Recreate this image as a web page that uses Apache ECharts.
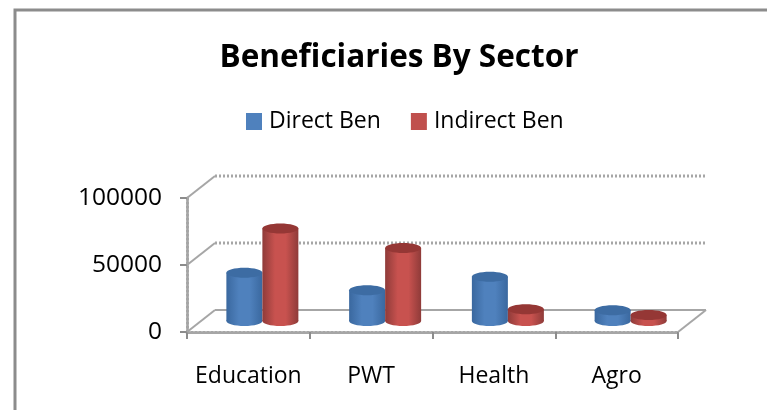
<!DOCTYPE html>
<html>
<head>
<meta charset="utf-8">
<style>
  html, body { margin: 0; padding: 0; background: #fff; }
  #chart { width: 767px; height: 410px; }
</style>
<script src="https://cdn.jsdelivr.net/npm/echarts@6/dist/echarts.min.js"></script>
</head>
<body>
<div id="chart"></div>
<script>
const categories = ['Education', 'PWT', 'Health', 'Agro'];
const directBen = [36000, 23000, 33000, 8000];
const indirectBen = [69000, 54500, 8800, 4500];
const yTicks = [0, 50000, 100000];

const FONT = '"Open Sans", sans-serif';
const DEPTH_X = 28, DEPTH_Y = 22;
const BAR_W = 36, BAR_RY = 5;
const GRID_COLOR = '#a6a6a6';

// one cylinder, side = -1 left of the band centre, 1 right of it
function cylinder(side, colors) {
  return (params, api) => {
    const i = api.value(0);
    const top = api.coord([i, api.value(1)]);
    const base = api.coord([i, 0]);
    const cx = top[0] + DEPTH_X / 2 + side * BAR_W / 2;
    const topY = top[1] - DEPTH_Y / 2;
    const baseY = base[1] - DEPTH_Y / 2;
    const rx = BAR_W / 2;
    const body = new echarts.graphic.LinearGradient(0, 0, 1, 0, [
      { offset: 0, color: colors[0] },
      { offset: 0.35, color: colors[1] },
      { offset: 0.65, color: colors[1] },
      { offset: 1, color: colors[0] }
    ]);
    return {
      type: 'group',
      children: [
        { type: 'ellipse', shape: { cx: cx, cy: baseY, rx: rx, ry: BAR_RY }, style: { fill: body } },
        { type: 'rect', shape: { x: cx - rx, y: topY, width: BAR_W, height: baseY - topY }, style: { fill: body } },
        { type: 'ellipse', shape: { cx: cx, cy: topY, rx: rx, ry: BAR_RY }, style: { fill: colors[2] } }
      ]
    };
  };
}

// back wall line, diagonal to the front tick, for every y tick
function wall(params, api) {
  const v = api.value(0);
  const y = api.coord([0, v])[1];
  const x0 = params.coordSys.x;
  const x1 = x0 + params.coordSys.width;
  const dotted = { stroke: GRID_COLOR, lineWidth: 3, lineDash: [2, 2] };
  const solid = { stroke: GRID_COLOR, lineWidth: 2 };
  const children = [
    { type: 'line', shape: { x1: x0 + DEPTH_X, y1: y - DEPTH_Y, x2: x1 + DEPTH_X, y2: y - DEPTH_Y }, style: v === 0 ? solid : dotted },
    { type: 'line', shape: { x1: x0, y1: y, x2: x0 + DEPTH_X, y2: y - DEPTH_Y }, style: solid }
  ];
  if (v === 0) {
    children.push({ type: 'line', shape: { x1: x1, y1: y, x2: x1 + DEPTH_X, y2: y - DEPTH_Y }, style: solid });
  }
  return { type: 'group', children: children };
}

const chart = echarts.init(document.getElementById('chart'), null, { renderer: 'canvas' });
chart.setOption({
  animation: false,
  title: {
    text: 'Beneficiaries By Sector',
    left: 394,
    top: 37,
    textAlign: 'center',
    textStyle: { fontFamily: FONT, fontSize: 31.5, fontWeight: 'bold', color: '#000' }
  },
  legend: {
    left: 241,
    top: 105,
    itemWidth: 16,
    itemHeight: 17,
    itemGap: 30,
    icon: 'rect',
    data: ['Direct Ben', 'Indirect Ben'],
    textStyle: { fontFamily: FONT, fontSize: 23, color: '#000', padding: [0, 0, 0, 2] }
  },
  graphic: [{
    type: 'polyline',
    silent: true,
    shape: { points: [[15, 410], [15, 10], [767, 10]] },
    style: { stroke: '#8c8c8c', lineWidth: 3, fill: null }
  }],
  grid: { left: 187, right: 89, top: 198, bottom: 78 },
  xAxis: {
    type: 'category',
    data: categories,
    axisLine: { show: true, lineStyle: { color: GRID_COLOR, width: 3, type: [2, 2] } },
    axisTick: { show: true, length: 7, lineStyle: { color: '#8c8c8c', width: 2 } },
    axisLabel: { show: true, interval: 0, margin: 33, fontFamily: FONT, fontSize: 23, color: '#000' }
  },
  yAxis: {
    type: 'value',
    min: 0,
    max: 100000,
    interval: 50000,
    splitLine: { show: false },
    axisLine: { show: true, lineStyle: { color: GRID_COLOR, width: 3, type: [2, 2] } },
    axisTick: { show: true, length: 7, lineStyle: { color: '#8c8c8c', width: 2 } },
    axisLabel: {
      margin: 25,
      fontFamily: FONT,
      fontSize: 24.5,
      color: '#000',
      padding: [7, 0, 0, 0],
      formatter: v => String(v)
    }
  },
  series: [
    {
      type: 'custom',
      name: 'walls',
      silent: true,
      data: yTicks.map(v => [v]),
      encode: { y: 0 },
      renderItem: wall,
      z: 1
    },
    {
      type: 'custom',
      name: 'Direct Ben',
      itemStyle: { color: '#4f81bd' },
      data: directBen.map((v, i) => [i, v]),
      encode: { x: 0, y: 1 },
      renderItem: cylinder(-1, ['#3a689f', '#4f81bd', '#3d6ca3']),
      z: 3
    },
    {
      type: 'custom',
      name: 'Indirect Ben',
      itemStyle: { color: '#c0504d' },
      data: indirectBen.map((v, i) => [i, v]),
      encode: { x: 0, y: 1 },
      renderItem: cylinder(1, ['#8f3b39', '#c8524f', '#953735']),
      z: 4
    }
  ]
});
</script>
</body>
</html>
